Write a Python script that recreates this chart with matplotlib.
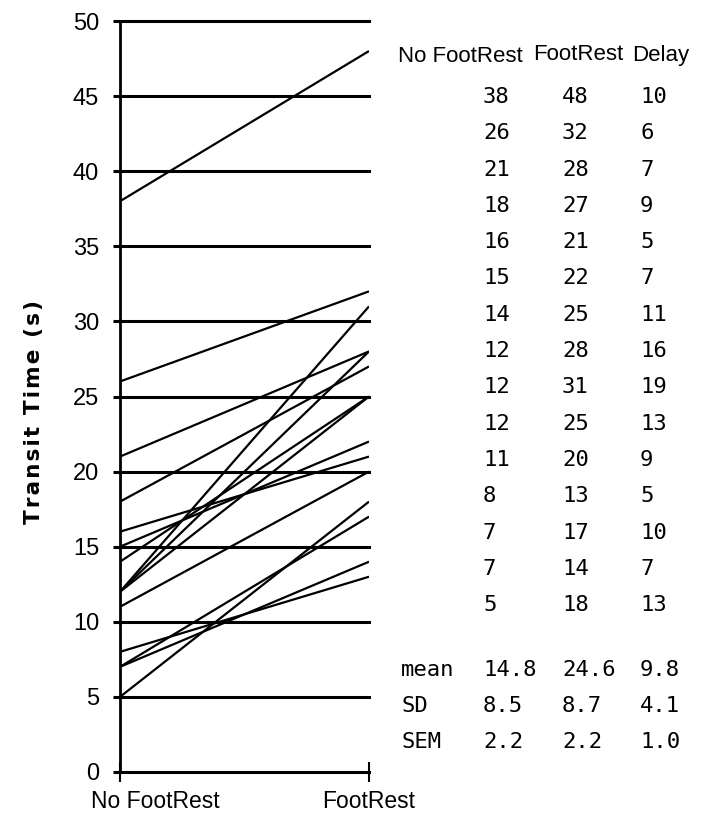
import matplotlib
matplotlib.use("Agg")
import matplotlib.pyplot as plt
import matplotlib.transforms as mtransforms

# data
no_footrest = [38, 26, 21, 18, 16, 15, 14, 12, 12, 12, 11, 8, 7, 7, 5]
footrest = [48, 32, 28, 27, 21, 22, 25, 28, 31, 25, 20, 13, 17, 14, 18]
delay = [10, 6, 7, 9, 5, 7, 11, 16, 19, 13, 9, 5, 10, 7, 13]
stat_names = ["mean", "SD", "SEM"]
stat_no_footrest = ["14.8", "8.5", "2.2"]
stat_footrest = ["24.6", "8.7", "2.2"]
stat_delay = ["9.8", "4.1", "1.0"]
conditions = ["No FootRest", "FootRest"]
y_ticks = [0, 5, 10, 15, 20, 25, 30, 35, 40, 45, 50]

sans = ["Liberation Sans", "DejaVu Sans"]
mono = "DejaVu Sans Mono"

W, H = 702, 817
fig = plt.figure(figsize=(W / 100, H / 100), dpi=100)
ax = fig.add_axes([120 / W, 1 - 772 / H, (369 - 120) / W, (772 - 21) / H])

# horizontal grid lines
for yv in y_ticks[1:]:
    ax.axhline(yv, 0, 1, color="black", lw=2.2, zorder=1, clip_on=False)

# one line per subject
for a, b in zip(no_footrest, footrest):
    ax.plot([0, 1], [a, b], color="black", lw=1.6, solid_capstyle="butt", zorder=2)

ax.set_xlim(0, 1)
ax.set_ylim(0, 50)
ax.spines["top"].set_visible(False)
ax.spines["right"].set_visible(False)
ax.spines["left"].set_linewidth(2)
ax.spines["bottom"].set_linewidth(2.2)

ax.set_yticks(y_ticks)
ax.set_yticklabels([str(v) for v in y_ticks], family=sans, fontsize=17)
ax.tick_params(axis="y", direction="out", length=5, width=2.2, pad=10)

ax.set_xticks([0, 1])
ax.set_xticklabels(conditions, family=sans, fontsize=16.5)
ax.tick_params(axis="x", direction="inout", length=14, width=1.5, pad=6)
first = ax.get_xticklabels()[0]
first.set_transform(first.get_transform() +
                    mtransforms.ScaledTranslation(35 / 100, 0, fig.dpi_scale_trans))

# letter-spaced bold axis title
ylabel = "\u200a".join("Transit Time (s)")
fig.text(34 / W, 1 - 412 / H, ylabel, rotation=90, ha="center",
         va="center", fontsize=15.5, fontweight="bold")

# table on the right
def put(x, y, s, **kw):
    fig.text(x / W, 1 - y / H, s, **kw)

put(460, 57, "No FootRest", ha="center", va="center", family=sans, fontsize=16)
put(578, 55, "FootRest", ha="center", va="center", family=sans, fontsize=16)
put(661, 55, "Delay", ha="center", va="center", family=sans, fontsize=16)

for i in range(len(no_footrest)):
    y = 97 + 36.3 * i
    put(483, y, str(no_footrest[i]), ha="left", va="center", family=mono, fontsize=16)
    put(562, y, str(footrest[i]), ha="left", va="center", family=mono, fontsize=16)
    put(640, y, str(delay[i]), ha="left", va="center", family=mono, fontsize=16)

for i in range(len(stat_names)):
    y = 670 + 36 * i
    put(401, y, stat_names[i], ha="left", va="center", family=mono, fontsize=16)
    put(483, y, stat_no_footrest[i], ha="left", va="center", family=mono, fontsize=16)
    put(562, y, stat_footrest[i], ha="left", va="center", family=mono, fontsize=16)
    put(640, y, stat_delay[i], ha="left", va="center", family=mono, fontsize=16)

fig.savefig("out.png", dpi=100)
